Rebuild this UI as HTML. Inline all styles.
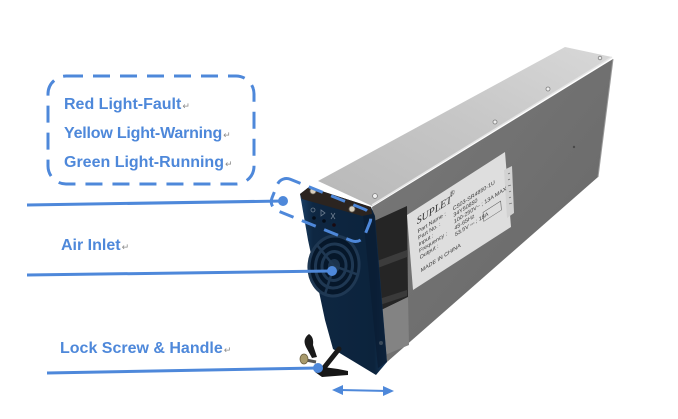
<!DOCTYPE html>
<html>
<head>
<meta charset="utf-8">
<style>
  html, body { margin: 0; padding: 0; background: #ffffff; }
  body { width: 678px; height: 419px; overflow: hidden; position: relative; }
  svg { position: absolute; left: 0; top: 0; }
  .lbl { font-family: "Liberation Sans", Arial, sans-serif; font-weight: bold; font-size: 16px; fill: #4e88da; }
  .ret { font-family: "DejaVu Sans", sans-serif; font-size: 9px; fill: #8a8a8a; font-weight: normal; }
  .tiny { font-family: "Liberation Sans", Arial, sans-serif; font-size: 5.4px; fill: #3a3a3a; }
</style>
</head>
<body>
<svg width="678" height="419" viewBox="0 0 678 419" xmlns="http://www.w3.org/2000/svg">
  <defs>
    <linearGradient id="topg" x1="0" y1="1" x2="1" y2="0">
      <stop offset="0" stop-color="#b8b8b8"/>
      <stop offset="0.5" stop-color="#c6c6c6"/>
      <stop offset="1" stop-color="#d8d8d8"/>
    </linearGradient>
    <linearGradient id="sideg" x1="0" y1="0" x2="1" y2="1">
      <stop offset="0" stop-color="#7a7a7a"/>
      <stop offset="1" stop-color="#666666"/>
    </linearGradient>
    <linearGradient id="plateg" x1="0" y1="0" x2="1" y2="0">
      <stop offset="0" stop-color="#1a3f66"/>
      <stop offset="0.15" stop-color="#0e2742"/>
      <stop offset="0.85" stop-color="#0c233c"/>
      <stop offset="1" stop-color="#173a5e"/>
    </linearGradient>
  </defs>

  <rect x="0" y="0" width="678" height="419" fill="#ffffff"/>

  <!-- ===== Product body ===== -->
  <!-- top face -->
  <polygon points="318,181 565,47 612,57 372,206" fill="url(#topg)"/>
  <line x1="372" y1="205" x2="612" y2="57" stroke="#e6e6e6" stroke-width="1.5"/>
  <line x1="374" y1="208" x2="613" y2="60" stroke="#8d8d8d" stroke-width="1"/>
  <!-- side face -->
  <polygon points="372,207 613,59 598,177 387,362" fill="url(#sideg)"/>
  <line x1="613" y1="59" x2="598" y2="177" stroke="#9a9a9a" stroke-width="1"/>
  <!-- top screws -->
  <circle cx="375" cy="196" r="2.4" fill="#eeeeee" stroke="#7c7c7c" stroke-width="0.8"/>
  <circle cx="495" cy="122" r="2" fill="#eeeeee" stroke="#7c7c7c" stroke-width="0.8"/>
  <circle cx="548" cy="89" r="2" fill="#eeeeee" stroke="#7c7c7c" stroke-width="0.8"/>
  <circle cx="600" cy="58" r="1.8" fill="#eeeeee" stroke="#7c7c7c" stroke-width="0.8"/>
  <circle cx="574" cy="147" r="1.2" fill="#4a4a4a"/>

  <!-- dark openings near front -->
  <polygon points="372,222 407,206 408,297 377,312" fill="#252525"/>
  <polygon points="374,262 407,250 407,257 375,269" fill="#3c3c3c"/>
  <polygon points="376,300 407,290 407,296 377,306" fill="#3a3a3a"/>
  <polygon points="377,312 408,297 409,345 385,355" fill="#838383"/>

  <!-- label -->
  <polygon points="407,215 505,152 511,227 413,290" fill="#dedede"/>
  <polygon points="504,170 512,166 514,213 507,218" fill="#d2d2d2"/>
  <g stroke="#555" stroke-width="0.6">
    <line x1="508" y1="174" x2="510" y2="173"/>
    <line x1="508" y1="180" x2="510" y2="179"/>
    <line x1="508" y1="186" x2="511" y2="185"/>
    <line x1="509" y1="192" x2="511" y2="191"/>
    <line x1="509" y1="198" x2="511" y2="197"/>
    <line x1="509" y1="204" x2="512" y2="203"/>
  </g>
  <g transform="matrix(0.98,-0.63,0.08,1,407,215)">
    <text x="9" y="15" font-family="Liberation Serif, serif" font-style="italic" font-size="10" fill="#2a2a2a">SUPLET</text>
    <text x="43" y="9" font-family="Liberation Serif, serif" font-size="7" fill="#2a2a2a">®</text>
    <text class="tiny" x="9" y="24">Part Name :</text>
    <text class="tiny" x="9" y="30.5">Part No. :</text>
    <text class="tiny" x="9" y="37">Input :</text>
    <text class="tiny" x="9" y="43.5">Frequency :</text>
    <text class="tiny" x="9" y="50">Output :</text>
    <text class="tiny" x="9" y="63">MADE IN CHINA</text>
    <text class="tiny" x="45" y="24">C503-SR4850-1U</text>
    <text class="tiny" x="45" y="30.5">34Y50850</text>
    <text class="tiny" x="45" y="37">100-250V~ ; 13A MAX</text>
    <text class="tiny" x="45" y="43.5">45-65Hz</text>
    <text class="tiny" x="45" y="50">53.5V ⎓ ; 18A</text>
    <rect x="74" y="44" width="18" height="9" fill="none" stroke="#555" stroke-width="0.5"/>
  </g>

  <!-- front plate -->
  <polygon points="300,194 309,187 371,207 375,216 387,362 376,375 333,349 325,320 308,240" fill="url(#plateg)"/>
  <polygon points="363,214 374,214 387,362 378,368" fill="#0a1d33" opacity="0.8"/>
  <!-- top cap -->
  <polygon points="300,194 309,187 371,207 372,214 362,216 302,199" fill="#2b2420"/>
  <circle cx="313" cy="191" r="3" fill="#d6cebe" stroke="#6a6256" stroke-width="0.8"/>
  <circle cx="352" cy="209" r="3" fill="#d6cebe" stroke="#6a6256" stroke-width="0.8"/>
  <!-- LED symbols -->
  <g stroke="#6c7c8e" stroke-width="0.8" fill="none">
    <circle cx="313" cy="210" r="2"/>
    <path d="M321,210 L325,213 L321,216 Z"/>
    <path d="M331,213 L335,219 M335,213 L331,219"/>
  </g>
  <circle cx="314" cy="218" r="1.8" fill="#050d18"/>
  <circle cx="324" cy="221" r="1.8" fill="#050d18"/>
  <circle cx="334" cy="225" r="1.8" fill="#1a0a10"/>

  <!-- fan grille -->
  <g transform="translate(334,266) rotate(6)">
    <ellipse cx="0" cy="0" rx="26" ry="31" fill="#06172a"/>
    <ellipse cx="0" cy="0" rx="25" ry="30" fill="none" stroke="#1f3853" stroke-width="3"/>
    <ellipse cx="0" cy="0" rx="18.5" ry="22" fill="none" stroke="#1f3853" stroke-width="3"/>
    <ellipse cx="0" cy="0" rx="12" ry="14.5" fill="none" stroke="#1f3853" stroke-width="3"/>
    <ellipse cx="0" cy="0" rx="6" ry="7" fill="#1c344e"/>
    <g stroke="#1f3853" stroke-width="2.5">
      <line x1="0" y1="0" x2="-20" y2="-20"/>
      <line x1="0" y1="0" x2="24" y2="6"/>
      <line x1="0" y1="0" x2="-6" y2="29"/>
    </g>
  </g>
  <circle cx="381" cy="343" r="2" fill="#3a4a5a"/>

  <!-- handle -->
  <path d="M309,334 Q302,339 306,347 L312,358 L317,357 L313,345 Q314,337 309,334 Z" fill="#1a1a1a"/>
  <line x1="339" y1="349" x2="323" y2="369" stroke="#1a1a1a" stroke-width="5" stroke-linecap="round"/>
  <path d="M316,366 L338,369 L348,371 L348,375 L322,377 L315,372 Z" fill="#161616"/>
  <line x1="306" y1="360" x2="316" y2="362" stroke="#555" stroke-width="3"/>
  <ellipse cx="304" cy="359" rx="4" ry="5" fill="#a89a6c" stroke="#6b6040" stroke-width="0.8"/>

  <!-- ===== Annotations ===== -->
  <!-- big dashed box -->
  <rect x="48" y="76" width="206" height="108" rx="18" ry="18" fill="none" stroke="#4e88da" stroke-width="3" stroke-dasharray="17 10"/>
  <!-- small dashed box around LEDs -->
  <rect x="-50" y="-17" width="100" height="34" rx="10" ry="10" transform="translate(321,210) rotate(22)" fill="none" stroke="#4e88da" stroke-width="3" stroke-dasharray="15 9" stroke-dashoffset="4"/>

  <!-- leader lines -->
  <line x1="27" y1="205" x2="283" y2="201" stroke="#4e88da" stroke-width="3"/>
  <circle cx="283" cy="201" r="5" fill="#4e88da"/>
  <line x1="27" y1="275" x2="332" y2="271" stroke="#4e88da" stroke-width="3"/>
  <circle cx="332" cy="271" r="5" fill="#4e88da"/>
  <line x1="47" y1="373" x2="318" y2="368" stroke="#4e88da" stroke-width="3"/>
  <circle cx="318" cy="368" r="5" fill="#4e88da"/>

  <!-- double arrow -->
  <line x1="340" y1="390" x2="386" y2="391" stroke="#4e88da" stroke-width="2"/>
  <polygon points="332,390 343,385 343,395" fill="#4e88da"/>
  <polygon points="394,391 383,386 383,396" fill="#4e88da"/>

  <!-- labels -->
  <text class="lbl" x="64" y="109">Red Light-Fault<tspan class="ret" dx="1">↵</tspan></text>
  <text class="lbl" x="64" y="138" letter-spacing="-0.2">Yellow Light-Warning<tspan class="ret" dx="1">↵</tspan></text>
  <text class="lbl" x="64" y="167">Green Light-Running<tspan class="ret" dx="1">↵</tspan></text>
  <text class="lbl" x="61" y="250">Air Inlet<tspan class="ret" dx="1">↵</tspan></text>
  <text class="lbl" x="60" y="353">Lock Screw &amp; Handle<tspan class="ret" dx="1">↵</tspan></text>
</svg>
</body>
</html>
